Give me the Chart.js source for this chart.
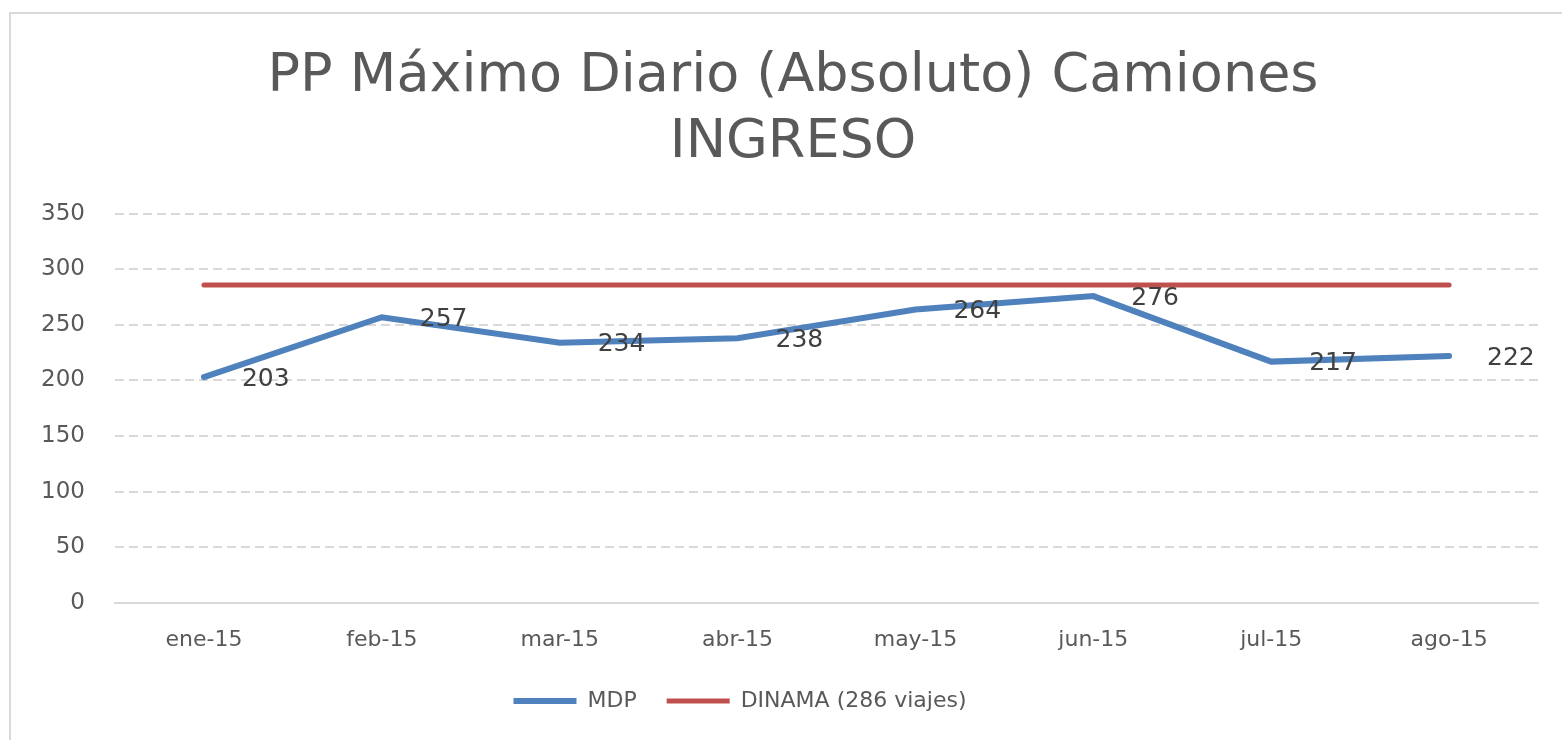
<!DOCTYPE html>
<html>
<head>
<meta charset="utf-8">
<script src="https://cdn.jsdelivr.net/npm/chart.js@4.4.0/dist/chart.umd.min.js"></script>
<style>
  html, body { margin: 0; padding: 0; background: #fff; overflow: hidden; }
  #wrap { position: relative; width: 1562px; height: 740px; }
  #frame { position: absolute; left: 9px; top: 12px; width: 1700px; height: 800px; border: 2px solid #d9d9d9; box-sizing: border-box; }
  canvas { position: absolute; left: 0; top: 0; }
</style>
</head>
<body>
<div id="wrap">
  <div id="frame"></div>
  <canvas id="chart" width="1562" height="740"></canvas>
</div>
<script>
const meses = ["ene-15", "feb-15", "mar-15", "abr-15", "may-15", "jun-15", "jul-15", "ago-15"];
const mdp = [203, 257, 234, 238, 264, 276, 217, 222];
const dinama = [286, 286, 286, 286, 286, 286, 286, 286];
const titulo = ["PP Máximo Diario (Absoluto) Camiones", "INGRESO"];

const fuente = "'DejaVu Sans', sans-serif";
const gris = "#595959";

// etiquetas de valor a la derecha de cada punto de MDP
const etiquetas = {
    id: "etiquetas",
    afterDatasetsDraw(chart) {
        const ctx = chart.ctx;
        const meta = chart.getDatasetMeta(0);
        ctx.save();
        ctx.font = "25px " + fuente;
        ctx.fillStyle = "#404040";
        ctx.textAlign = "left";
        ctx.textBaseline = "middle";
        meta.data.forEach((p, i) => {
            ctx.fillText(mdp[i], p.x + 38, p.y + 2);
        });
        ctx.restore();
    }
};

// la leyenda va un poco a la izquierda del titulo y algo mas arriba
const moverLeyenda = {
    id: "moverLeyenda",
    afterLayout(chart) {
        chart.legend.left -= 53;
        chart.legend.right -= 53;
        chart.legend.top -= 9;
        chart.legend.bottom -= 9;
    }
};

new Chart(document.getElementById("chart"), {
    type: "line",
    data: {
        labels: meses,
        datasets: [{
            label: "MDP",
            data: mdp,
            borderColor: "#4f81bd",
            backgroundColor: "#4f81bd",
            borderWidth: 6,
            borderCapStyle: "round",
            pointRadius: 0,
            tension: 0
        },
        {
            label: "DINAMA (286 viajes)",
            data: dinama,
            borderColor: "#c0504d",
            backgroundColor: "#c0504d",
            borderWidth: 5,
            borderCapStyle: "round",
            pointRadius: 0
        }]
    },
    options: {
        responsive: false,
        animation: false,
        layout: { padding: { left: 24, right: 0, top: 0, bottom: 9 } },
        plugins: {
            title: {
                display: true,
                text: titulo,
                color: gris,
                font: { family: fuente, size: 54, weight: "normal", lineHeight: 1.24 },
                padding: { top: 43, bottom: 37 }
            },
            legend: {
                position: "bottom",
                labels: {
                    usePointStyle: true,
                    pointStyle: "line",
                    pointStyleWidth: 63,
                    boxHeight: 6,
                    color: gris,
                    padding: 30,
                    font: { family: fuente, size: 22 }
                }
            },
            tooltip: { enabled: false }
        },
        scales: {
            x: {
                offset: true,
                grid: { display: false },
                border: { display: true, color: "#d9d9d9", width: 2 },
                ticks: { color: gris, padding: 16, font: { family: fuente, size: 22 } }
            },
            y: {
                min: 0,
                max: 350,
                afterFit: s => { s.width = 91; },
                border: {
                    display: false,
                    dash: c => (c.tick && c.tick.value === 0) ? [] : [9, 5]
                },
                grid: { color: "#d9d9d9", lineWidth: 2, drawTicks: false },
                ticks: { stepSize: 50, color: gris, padding: 30, font: { family: fuente, size: 23 } }
            },
            derecha: {
                position: "right",
                display: true,
                afterFit: s => { s.width = 24; },
                grid: { display: false },
                border: { display: false },
                ticks: { display: false }
            }
        }
    },
    plugins: [etiquetas, moverLeyenda]
});
</script>
</body>
</html>
